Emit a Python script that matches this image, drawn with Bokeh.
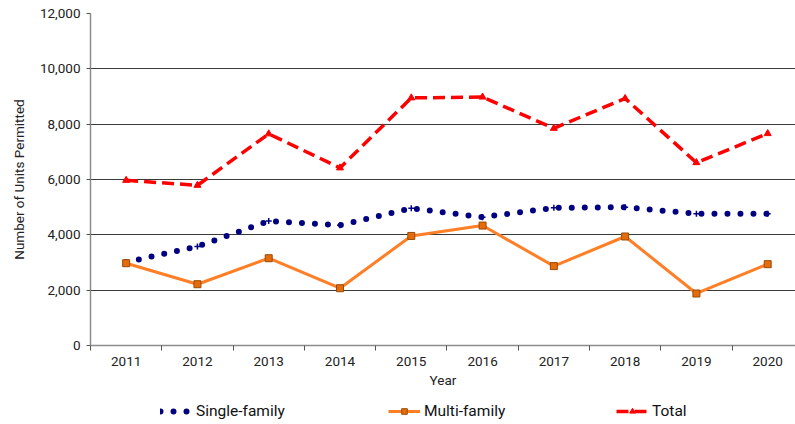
from bokeh.plotting import figure
from bokeh.layouts import column
from bokeh.models import (Range1d, FixedTicker, NumeralTickFormatter, Legend, LegendItem,
                          ColumnDataSource)
from bokeh.embed import file_html
from bokeh.resources import INLINE

years = ["2011", "2012", "2013", "2014", "2015", "2016", "2017", "2018", "2019", "2020"]
single_family = [3010, 3580, 4500, 4350, 4960, 4640, 4975, 5000, 4760, 4760]
multi_family = [2975, 2215, 3155, 2070, 3960, 4335, 2870, 3940, 1880, 2940]
total = [5970, 5790, 7650, 6420, 8950, 8980, 7850, 8930, 6610, 7660]
y_ticks = [0, 2000, 4000, 6000, 8000, 10000, 12000]
labels = ["Single-family", "Multi-family", "Total"]

xs = list(range(len(years)))
src = ColumnDataSource(dict(x=xs, sf=single_family, mf=multi_family, tot=total))

FONT = "Roboto"

p = figure(width=795, height=392, output_backend="svg", toolbar_location=None,
           x_range=Range1d(-0.5, 9.39), y_range=Range1d(0, 12000),
           min_border_left=90, min_border_right=0, min_border_top=13, min_border_bottom=47)
p.outline_line_color = None

# x axis
p.xaxis.ticker = FixedTicker(ticks=xs, minor_ticks=[i - 0.5 for i in xs])
p.xaxis.major_label_overrides = {i: y for i, y in enumerate(years)}
p.xaxis.major_tick_out = 0
p.xaxis.major_tick_in = 0
p.xaxis.minor_tick_out = 5
p.xaxis.minor_tick_in = 0
p.xaxis.minor_tick_line_color = "#555555"
p.xaxis.axis_line_color = "#8c8c8c"
p.xaxis.axis_line_width = 1.5
p.xaxis.major_label_standoff = 6
p.xaxis.axis_label = "Year"
p.xaxis.axis_label_standoff = 3
p.xaxis.axis_label_text_font_style = "normal"

# y axis
p.yaxis.ticker = FixedTicker(ticks=y_ticks, minor_ticks=[])
p.yaxis.formatter = NumeralTickFormatter(format="0,0")
p.yaxis.major_tick_out = 4
p.yaxis.major_tick_in = 0
p.yaxis.major_tick_line_color = "#555555"
p.yaxis.axis_line_color = "#8c8c8c"
p.yaxis.axis_line_width = 1.5
p.yaxis.major_label_standoff = 6
p.yaxis.axis_label = "Number of Units Permitted"
p.yaxis.axis_label_standoff = 10
p.yaxis.axis_label_text_font_style = "normal"

for ax in (p.xaxis, p.yaxis):
    ax.major_label_text_font = FONT
    ax.major_label_text_font_size = "13.5px"
    ax.major_label_text_color = "#222222"
    ax.axis_label_text_font = FONT
    ax.axis_label_text_font_size = "13.5px"
    ax.axis_label_text_color = "#222222"

p.xgrid.grid_line_color = None
p.ygrid.ticker = FixedTicker(ticks=y_ticks[1:])
p.ygrid.grid_line_color = "#3a3a3a"
p.ygrid.grid_line_width = 1


def draw(fig):
    a = fig.line("x", "sf", source=src, line_color="#000080", line_width=6,
                 line_dash="0 13", line_cap="round")
    b = fig.scatter("x", "sf", source=src, marker="cross", size=6, line_color="#000080",
                    line_width=1.5)
    c = fig.line("x", "mf", source=src, line_color="#FF7F27", line_width=3)
    d = fig.scatter("x", "mf", source=src, marker="square", size=7, fill_color="#E46C0A",
                    line_color="#9A4A06", line_width=1)
    e = fig.line("x", "tot", source=src, line_color="#FF0000", line_width=3.5,
                 line_dash="12 6")
    f = fig.scatter("x", "tot", source=src, marker="triangle", size=7, fill_color="#FF0000",
                    line_color="#FF0000")
    return a, b, c, d, e, f


draw(p)

# legend strip (separate figure below; its series lie outside its visible range)
lg = figure(width=795, height=32, output_backend="svg", toolbar_location=None,
            x_range=Range1d(100, 101), y_range=Range1d(100, 101),
            min_border_left=0, min_border_right=0, min_border_top=0, min_border_bottom=0)
lg.outline_line_color = None
lg.axis.visible = False
lg.grid.visible = False
a, b, c, d, e, f = draw(lg)

legend = Legend(items=[
    LegendItem(label=labels[0], renderers=[a]),
    LegendItem(label=labels[1], renderers=[c, d]),
    LegendItem(label=labels[2], renderers=[e, f]),
], orientation="horizontal", location=(70, 4))
legend.glyph_width = 32
legend.glyph_height = 14
legend.label_standoff = 4
legend.label_width = 182
legend.spacing = 10
legend.padding = 0
legend.margin = 0
legend.border_line_color = None
legend.background_fill_alpha = 0
legend.label_text_font = FONT
legend.label_text_font_size = "15.5px"
legend.label_text_color = "#111111"
legend.label_height = 14
lg.add_layout(legend, "center")

layout = column(p, lg, spacing=0)
open("out.html", "w").write(file_html(layout, INLINE))
